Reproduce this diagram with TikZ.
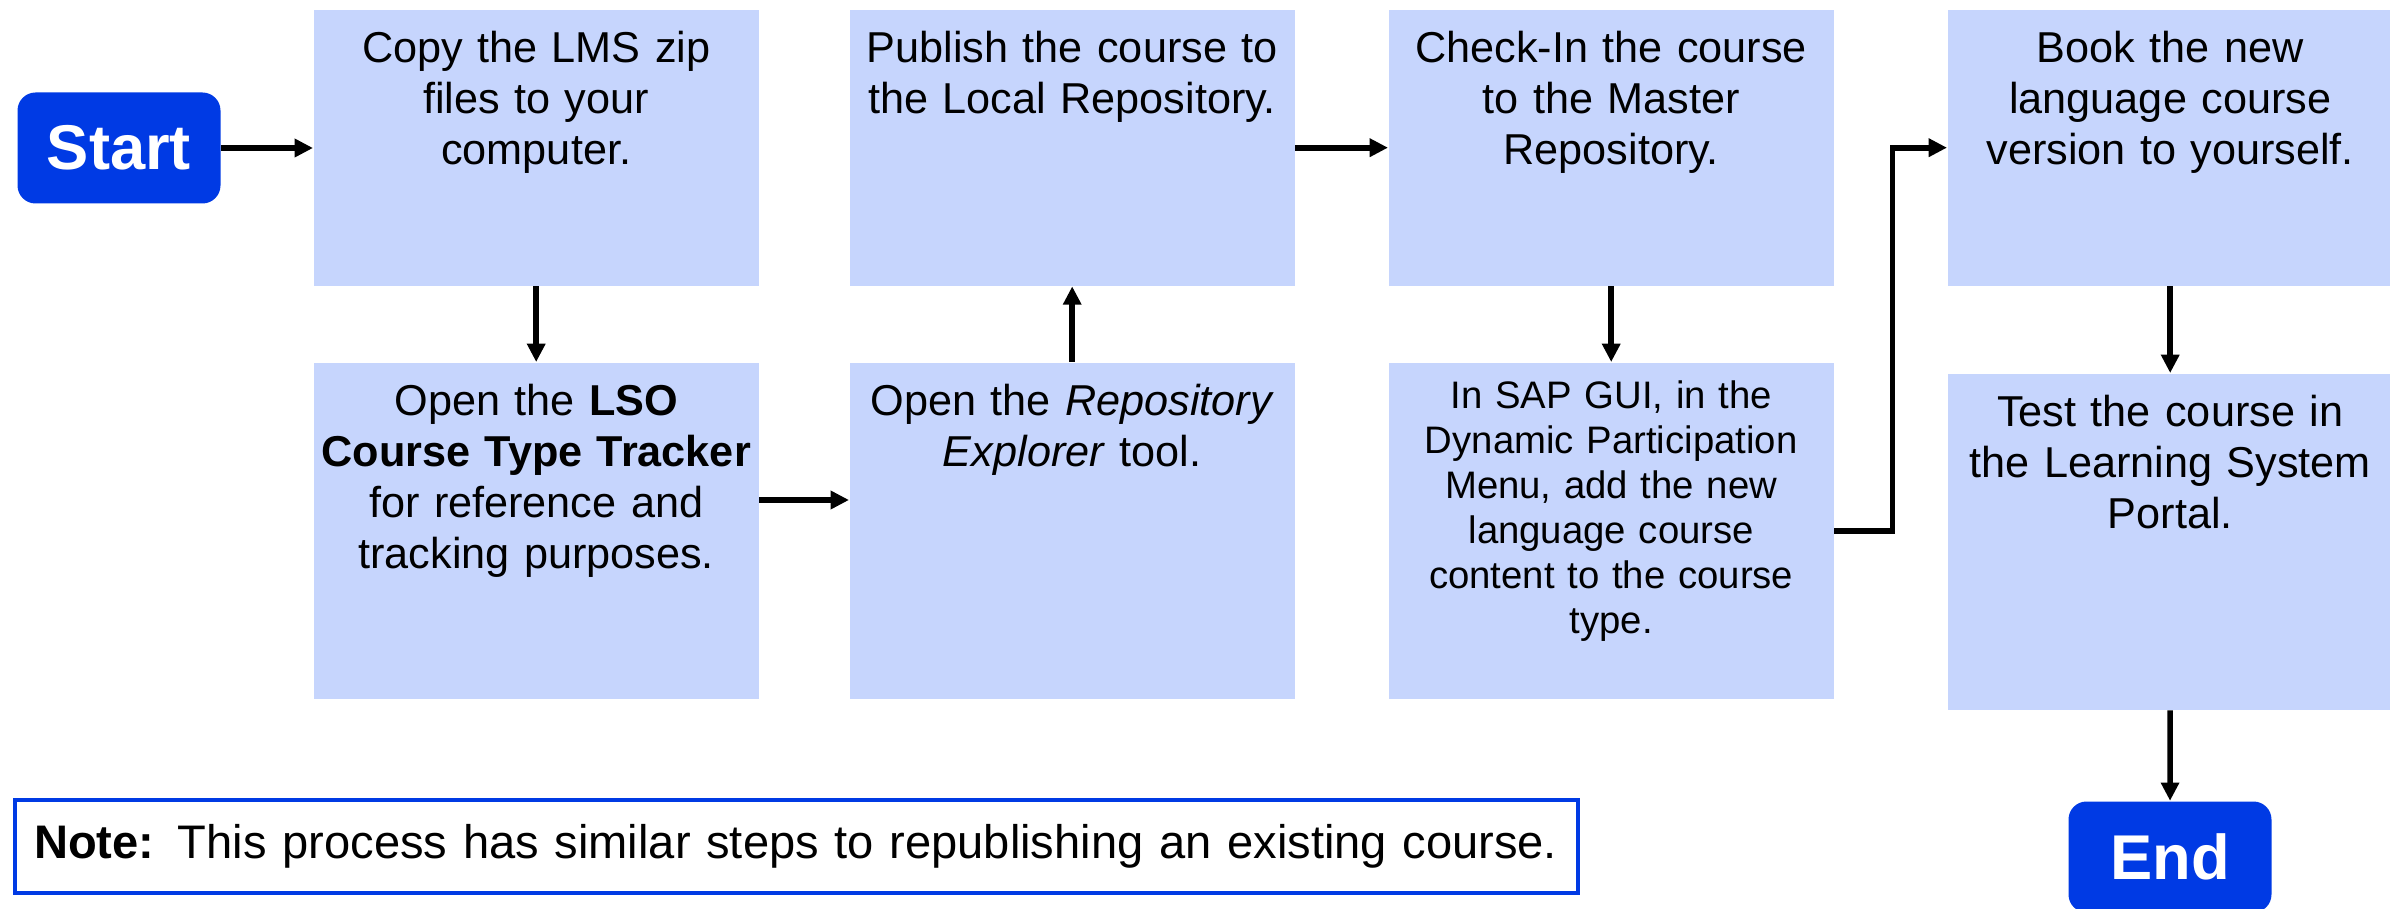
\documentclass[tikz,border=0pt]{standalone}
\usepackage{fontspec}
\setmainfont{Liberation Sans}
\usetikzlibrary{arrows.meta}
\definecolor{startblue}{RGB}{0,58,228}
\definecolor{boxblue}{RGB}{198,213,253}
\tikzset{
  stepbox/.style={fill=boxblue, inner sep=0pt, text width=44.5mm, align=center, anchor=north west,
    text height=5.3mm, font=\fontsize{12.3}{14.5}\selectfont},
  toprow/.style={text depth=22.3mm},
  lowrow/.style={text depth=28.3mm},
  endpoint/.style={fill=startblue, text=white, rounded corners=1.8mm, minimum width=20.3mm,
    minimum height=11.1mm, inner sep=0pt, font=\fontsize{18}{20}\selectfont\bfseries},
  flow/.style={-{Triangle[length=5.2pt,width=5pt]}, line width=1.6pt},
}
\begin{document}
\begin{tikzpicture}[x=0.1mm, y=0.1mm]
\useasboundingbox (0,0) rectangle (2390,908);
% terminals
\node[endpoint] (start) at (119,760) {Start};
\node[endpoint] (end) at (2170,51) {End};
% steps, column by column
\node[stepbox, toprow] (copy) at (313,899) {Copy the LMS zip\\files to your\\computer.};
\node[stepbox, lowrow] (tracker) at (313,546) {Open the \textbf{LSO}\\\textbf{Course Type Tracker}\\for reference and\\tracking purposes.};
\node[stepbox, lowrow] (explorer) at (849,546) {Open the \textit{Repository}\\\textit{Explorer} tool.};
\node[stepbox, toprow] (publish) at (849,899) {Publish the course to\\the Local Repository.};
\node[stepbox, toprow] (checkin) at (1388,899) {Check-In the course\\to the Master\\Repository.};
\node[stepbox, lowrow, text height=4.6mm, text depth=29.0mm, font=\fontsize{10.9}{12.8}\selectfont] (sapgui) at (1388,546)
  {In SAP GUI, in the\\Dynamic Participation\\Menu, add the new\\language course\\content to the course\\type.};
\node[stepbox, toprow] (book) at (1947,899) {Book the new\\language course\\version to yourself.};
\node[stepbox, lowrow] (test) at (1947,535) {Test the course in\\the Learning System\\Portal.};
% note
\node[draw=startblue, line width=1pt, inner xsep=1.9mm, text width=152.5mm, align=left, minimum height=9.3mm,
  font=\fontsize{13.4}{15.5}\selectfont] (note) at (796.5,61.5)
  {\textbf{Note:} This process has similar steps to republishing an existing course.};
% connectors
\coordinate (lvl) at (0,408);
\draw[flow] (start.east) -- (start.east -| copy.west);
\draw[flow] (copy) -- (tracker);
\draw[flow] (tracker.east |- lvl) -- (explorer.west |- lvl);
\draw[flow] (explorer) -- (publish);
\draw[flow] (publish.east) -- (checkin.west |- publish.east);
\draw[flow] (checkin) -- (sapgui);
\draw[flow] (sapgui.east) -- ++(58,0) |- (book.west);
\draw[flow] (book) -- (test);
\draw[flow] (test) -- (end);
\end{tikzpicture}
\end{document}
